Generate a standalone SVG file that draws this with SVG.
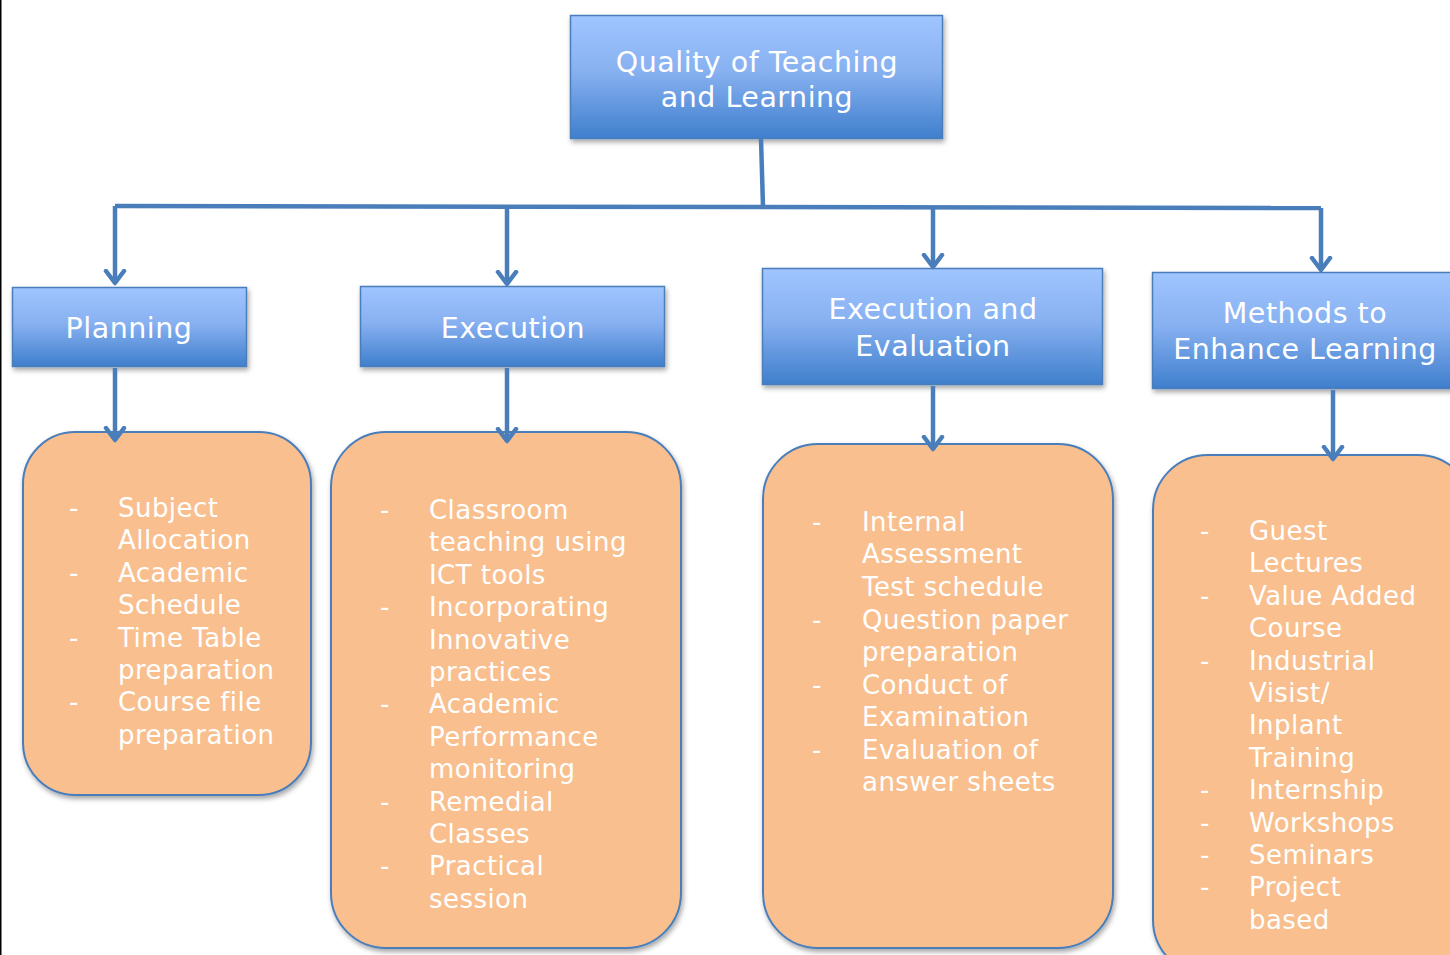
<svg xmlns="http://www.w3.org/2000/svg" width="1450" height="955" viewBox="0 0 1450 955">
<defs>
<linearGradient id="blue" x1="0" y1="0" x2="0" y2="1">
<stop offset="0" stop-color="#a0c5ff"/>
<stop offset="0.45" stop-color="#88b1f1"/>
<stop offset="1" stop-color="#3f7fcd"/>
</linearGradient>
<filter id="sh" x="-10%" y="-10%" width="120%" height="130%">
<feDropShadow dx="1.5" dy="3" stdDeviation="2.5" flood-color="#000" flood-opacity="0.35"/>
</filter>
<marker id="arr" markerUnits="userSpaceOnUse" viewBox="-14 -12 26 24" refX="0" refY="0" markerWidth="26" markerHeight="24" orient="auto">
<polyline points="-12,-9 0,0 -12,9" fill="none" stroke="#4a7ebb" stroke-width="4.5" stroke-linecap="round" stroke-linejoin="round"/>
</marker>
<style>
.hdr{fill:url(#blue);stroke:#4a7ebb;stroke-width:1.5;filter:url(#sh)}
.box{fill:#f9bf8f;stroke:#4a7ebb;stroke-width:2;filter:url(#sh)}
.ht{font-family:"DejaVu Sans",Verdana,sans-serif;font-size:28.5px;letter-spacing:0.5px;fill:#fff;text-anchor:middle}
.bt{font-family:"DejaVu Sans",Verdana,sans-serif;font-size:26px;letter-spacing:0.45px;fill:#fff}
.con{fill:none;stroke:#4a7ebb;stroke-width:4.5;stroke-linejoin:round}
</style>
</defs>
<rect width="1450" height="955" fill="#fff"/>
<rect x="0" y="0" width="1.5" height="955" fill="#000"/>

<g id="root">
<rect class="hdr" x="570.5" y="15.5" width="372" height="123"/>
<text class="ht" x="757" y="72">Quality of Teaching</text>
<text class="ht" x="757" y="107">and Learning</text>
</g>

<g id="planning">
<rect class="hdr" x="12.5" y="287.5" width="234" height="79"/>
<text class="ht" x="129" y="338">Planning</text>
</g>

<g id="execution">
<rect class="hdr" x="360.5" y="286.5" width="304" height="80"/>
<text class="ht" x="513" y="338">Execution</text>
</g>

<g id="exec-eval">
<rect class="hdr" x="762.5" y="268.5" width="340" height="116"/>
<text class="ht" x="933" y="319">Execution and</text>
<text class="ht" x="933" y="356">Evaluation</text>
</g>

<g id="methods">
<rect class="hdr" x="1152.5" y="272.5" width="310" height="116"/>
<text class="ht" x="1305" y="323">Methods to</text>
<text class="ht" x="1305" y="359">Enhance Learning</text>
</g>

<g id="planning-items">
<rect class="box" x="23" y="432" width="288" height="363" rx="52" ry="52"/>
<g class="bt">
<text x="69" y="517">-</text>
<text x="118" y="517">Subject</text>
<text x="118" y="549.4">Allocation</text>
<text x="69" y="581.8">-</text>
<text x="118" y="581.8">Academic</text>
<text x="118" y="614.2">Schedule</text>
<text x="69" y="646.6">-</text>
<text x="118" y="646.6">Time Table</text>
<text x="118" y="679">preparation</text>
<text x="69" y="711.4">-</text>
<text x="118" y="711.4">Course file</text>
<text x="118" y="743.8">preparation</text>
</g>
</g>

<g id="execution-items">
<rect class="box" x="331" y="432" width="350" height="516" rx="55" ry="55"/>
<g class="bt">
<text x="380" y="519">-</text>
<text x="429" y="519">Classroom</text>
<text x="429" y="551.4">teaching using</text>
<text x="429" y="583.8">ICT tools</text>
<text x="380" y="616.2">-</text>
<text x="429" y="616.2">Incorporating</text>
<text x="429" y="648.6">Innovative</text>
<text x="429" y="681">practices</text>
<text x="380" y="713.4">-</text>
<text x="429" y="713.4">Academic</text>
<text x="429" y="745.8">Performance</text>
<text x="429" y="778.2">monitoring</text>
<text x="380" y="810.6">-</text>
<text x="429" y="810.6">Remedial</text>
<text x="429" y="843">Classes</text>
<text x="380" y="875.4">-</text>
<text x="429" y="875.4">Practical</text>
<text x="429" y="907.8">session</text>
</g>
</g>

<g id="exec-eval-items">
<rect class="box" x="763" y="444" width="350" height="504" rx="55" ry="55"/>
<g class="bt">
<text x="812" y="531">-</text>
<text x="862" y="531">Internal</text>
<text x="862" y="563.4">Assessment</text>
<text x="862" y="595.8">Test schedule</text>
<text x="812" y="629">-</text>
<text x="862" y="629">Question paper</text>
<text x="862" y="661.4">preparation</text>
<text x="812" y="693.8">-</text>
<text x="862" y="693.8">Conduct of</text>
<text x="862" y="726.2">Examination</text>
<text x="812" y="758.6">-</text>
<text x="862" y="758.6">Evaluation of</text>
<text x="862" y="791">answer sheets</text>
</g>
</g>

<g id="methods-items">
<rect class="box" x="1153" y="455" width="320" height="520" rx="55" ry="55"/>
<g class="bt">
<text x="1200" y="540">-</text>
<text x="1249" y="540">Guest</text>
<text x="1249" y="572.4">Lectures</text>
<text x="1200" y="604.8">-</text>
<text x="1249" y="604.8">Value Added</text>
<text x="1249" y="637.2">Course</text>
<text x="1200" y="669.6">-</text>
<text x="1249" y="669.6">Industrial</text>
<text x="1249" y="702">Visist/</text>
<text x="1249" y="734.4">Inplant</text>
<text x="1249" y="766.8">Training</text>
<text x="1200" y="799.2">-</text>
<text x="1249" y="799.2">Internship</text>
<text x="1200" y="831.6">-</text>
<text x="1249" y="831.6">Workshops</text>
<text x="1200" y="864">-</text>
<text x="1249" y="864">Seminars</text>
<text x="1200" y="896.4">-</text>
<text x="1249" y="896.4">Project</text>
<text x="1249" y="928.8">based</text>
</g>
</g>

<g id="connectors">
<path class="con" d="M761 139 L763 207"/>
<path class="con" d="M115 206 L1321 208"/>
<path class="con" d="M115 206 L115 283" marker-end="url(#arr)"/>
<path class="con" d="M507 207 L507 284" marker-end="url(#arr)"/>
<path class="con" d="M933 207 L933 267" marker-end="url(#arr)"/>
<path class="con" d="M1321 208 L1321 270" marker-end="url(#arr)"/>
<path class="con" d="M115 368 L115 440" marker-end="url(#arr)"/>
<path class="con" d="M507 368 L507 441" marker-end="url(#arr)"/>
<path class="con" d="M933 386 L933 449" marker-end="url(#arr)"/>
<path class="con" d="M1333 390 L1333 459" marker-end="url(#arr)"/>
</g>
</svg>
